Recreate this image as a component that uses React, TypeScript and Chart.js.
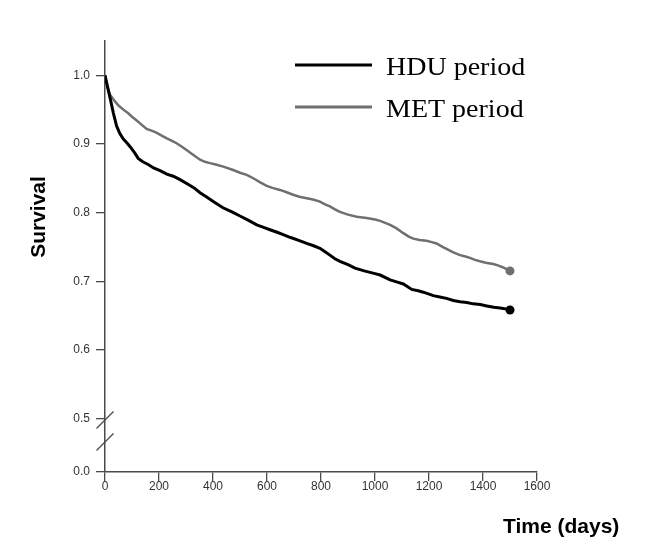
import React, { useEffect, useRef } from "react";
import { Chart, registerables } from "chart.js";

Chart.register(...registerables);

// ---- data ----
const hduDays = [0, 10, 20, 31, 43, 55, 68, 80, 93, 110, 123, 140, 160, 180, 204, 229, 253, 278, 309, 330, 352, 375, 401, 437, 470, 500, 530, 562, 590, 611, 640, 660, 685, 720, 747, 770, 796, 815, 833, 850, 870, 900, 926, 960, 1000, 1019, 1056, 1080, 1105, 1136, 1160, 1179, 1216, 1240, 1265, 1290, 1315, 1340, 1364, 1390, 1414, 1440, 1463, 1480, 1500];
const hduSurvival = [1.0, 0.982, 0.965, 0.945, 0.926, 0.915, 0.907, 0.902, 0.896, 0.887, 0.879, 0.874, 0.87, 0.865, 0.861, 0.856, 0.853, 0.848, 0.841, 0.836, 0.829, 0.823, 0.816, 0.807, 0.801, 0.795, 0.789, 0.782, 0.778, 0.775, 0.771, 0.768, 0.764, 0.759, 0.755, 0.752, 0.748, 0.743, 0.738, 0.733, 0.729, 0.724, 0.719, 0.715, 0.711, 0.709, 0.702, 0.699, 0.696, 0.688, 0.686, 0.684, 0.679, 0.677, 0.675, 0.672, 0.67, 0.669, 0.667, 0.666, 0.664, 0.662, 0.661, 0.66, 0.658];

const metDays = [0, 8, 18, 37, 50, 68, 85, 99, 115, 130, 154, 175, 192, 210, 229, 250, 265, 285, 302, 330, 352, 370, 389, 410, 438, 475, 500, 525, 549, 575, 599, 620, 648, 670, 697, 720, 747, 770, 796, 815, 833, 850, 870, 900, 932, 969, 1000, 1019, 1056, 1080, 1105, 1125, 1142, 1165, 1191, 1210, 1228, 1250, 1265, 1290, 1315, 1335, 1352, 1370, 1389, 1410, 1438, 1455, 1475, 1490, 1500];
const metSurvival = [1.0, 0.985, 0.972, 0.962, 0.956, 0.95, 0.945, 0.94, 0.935, 0.93, 0.922, 0.919, 0.916, 0.912, 0.908, 0.904, 0.901, 0.896, 0.891, 0.883, 0.877, 0.874, 0.872, 0.87, 0.867, 0.862, 0.858, 0.855, 0.85, 0.844, 0.839, 0.836, 0.833, 0.83, 0.826, 0.823, 0.821, 0.819, 0.816, 0.812, 0.809, 0.805, 0.801, 0.797, 0.794, 0.792, 0.79, 0.788, 0.782, 0.777, 0.77, 0.765, 0.762, 0.76, 0.759, 0.757, 0.755, 0.75, 0.747, 0.742, 0.738, 0.736, 0.734, 0.731, 0.729, 0.727, 0.725, 0.723, 0.72, 0.717, 0.715];

const seriesLabels = ["HDU period", "MET period"];
const seriesColors = ["#000000", "#6f6f6f"];
const xTickValues = [0, 200, 400, 600, 800, 1000, 1200, 1400, 1600];
const yTickValues = [0.5, 0.6, 0.7, 0.8, 0.9, 1.0];
const yBreakValue = 0.422; // position where the "0.0" tick sits below the axis break
const yBreakLabel = "0.0";
const xTitle = "Time (days)";
const yTitle = "Survival";

const SANS = '"Liberation Sans", Arial, sans-serif';
const SERIF = '"Liberation Serif", "Times New Roman", serif';
const AXIS_COLOR = "#4a4a4a";

const decorPlugin = {
  id: "decor",
  afterDraw(chart: any) {
    const { ctx, chartArea, scales } = chart;
    const y = scales.y;
    const x0 = chartArea.left;
    const p05 = y.getPixelForValue(0.5);
    const pBr = y.getPixelForValue(yBreakValue);
    ctx.save();
    // axis break slashes
    ctx.strokeStyle = AXIS_COLOR;
    ctx.lineWidth = 1.3;
    [p05 + 1.5, p05 + 0.44 * (pBr - p05)].forEach((yc) => {
      ctx.beginPath();
      ctx.moveTo(x0 - 8.5, yc + 8.5);
      ctx.lineTo(x0 + 8.5, yc - 8.5);
      ctx.stroke();
    });
    // legend
    const legendRows = [65, 107];
    seriesLabels.forEach((lab, i) => {
      const ly = legendRows[i];
      ctx.strokeStyle = seriesColors[i];
      ctx.lineWidth = 3;
      ctx.beginPath();
      ctx.moveTo(295, ly);
      ctx.lineTo(372, ly);
      ctx.stroke();
      ctx.save();
      ctx.translate(386, ly + 10);
      ctx.scale(1, 0.88);
      ctx.fillStyle = "#000";
      ctx.font = `28px ${SERIF}`;
      ctx.textAlign = "left";
      ctx.textBaseline = "alphabetic";
      ctx.fillText(lab, 0, 0);
      ctx.restore();
    });
    // axis titles
    ctx.fillStyle = "#000";
    ctx.font = `bold 21px ${SANS}`;
    ctx.textAlign = "left";
    ctx.textBaseline = "alphabetic";
    ctx.fillText(xTitle, 503, 533);
    ctx.save();
    ctx.translate(45, 217);
    ctx.rotate(-Math.PI / 2);
    ctx.textAlign = "center";
    ctx.fillText(yTitle, 0, 0);
    ctx.restore();
    ctx.restore();
  },
};

export default function App() {
  const ref = useRef<HTMLCanvasElement | null>(null);
  useEffect(() => {
    if (!ref.current) return;
    const makeData = (xs: number[], ys: number[]) => xs.map((d, i) => ({ x: d, y: ys[i] }));
    const lastRadius = (ctx: any) => (ctx.dataIndex === ctx.dataset.data.length - 1 ? 4.5 : 0);
    const chart = new Chart(ref.current, {
      type: "line",
      data: {
        datasets: [
          {
            label: seriesLabels[0],
            data: makeData(hduDays, hduSurvival),
            borderColor: seriesColors[0],
            backgroundColor: seriesColors[0],
            borderWidth: 3,
            pointRadius: lastRadius,
            pointBorderWidth: 0,
            tension: 0,
          },
          {
            label: seriesLabels[1],
            data: makeData(metDays, metSurvival),
            borderColor: seriesColors[1],
            backgroundColor: seriesColors[1],
            borderWidth: 2.5,
            pointRadius: lastRadius,
            pointBorderWidth: 0,
            tension: 0,
          },
        ],
      },
      options: {
        animation: false,
        responsive: false,
        maintainAspectRatio: false,
        devicePixelRatio: 1,
        layout: { padding: { left: 0, top: 41, right: 129, bottom: 0 } },
        plugins: { legend: { display: false }, tooltip: { enabled: false } },
        scales: {
          x: {
            type: "linear",
            min: 0,
            max: 1600,
            afterBuildTicks: (s: any) => {
              s.ticks = xTickValues.map((v) => ({ value: v }));
            },
            afterFit: (s: any) => {
              s.height = 77;
            },
            grid: { display: true, drawOnChartArea: false, drawTicks: true, tickLength: 9, color: AXIS_COLOR, lineWidth: 1.3 },
            border: { display: true, color: AXIS_COLOR, width: 1.5 },
            ticks: {
              color: "#333",
              font: { family: SANS, size: 12 },
              padding: -2,
              maxRotation: 0,
              autoSkip: false,
              callback: (v: any) => String(v),
            },
          },
          y: {
            type: "linear",
            min: yBreakValue,
            max: 1.05,
            afterBuildTicks: (s: any) => {
              s.ticks = [yBreakValue, ...yTickValues].map((v) => ({ value: v }));
            },
            afterFit: (s: any) => {
              s.width = 105;
            },
            grid: { display: true, drawOnChartArea: false, drawTicks: true, tickLength: 9, color: AXIS_COLOR, lineWidth: 1.3 },
            border: { display: true, color: AXIS_COLOR, width: 1.5 },
            ticks: {
              color: "#333",
              font: { family: SANS, size: 12 },
              padding: 6,
              autoSkip: false,
              callback: (v: any) => (Math.abs(v - yBreakValue) < 1e-9 ? yBreakLabel : Number(v).toFixed(1)),
            },
          },
        },
      },
      plugins: [decorPlugin],
    });
    return () => chart.destroy();
  }, []);
  return (
    <canvas
      ref={ref}
      width={666}
      height={549}
      style={{ position: "fixed", left: 0, top: 0, width: 666, height: 549, background: "#fff" }}
    />
  );
}
